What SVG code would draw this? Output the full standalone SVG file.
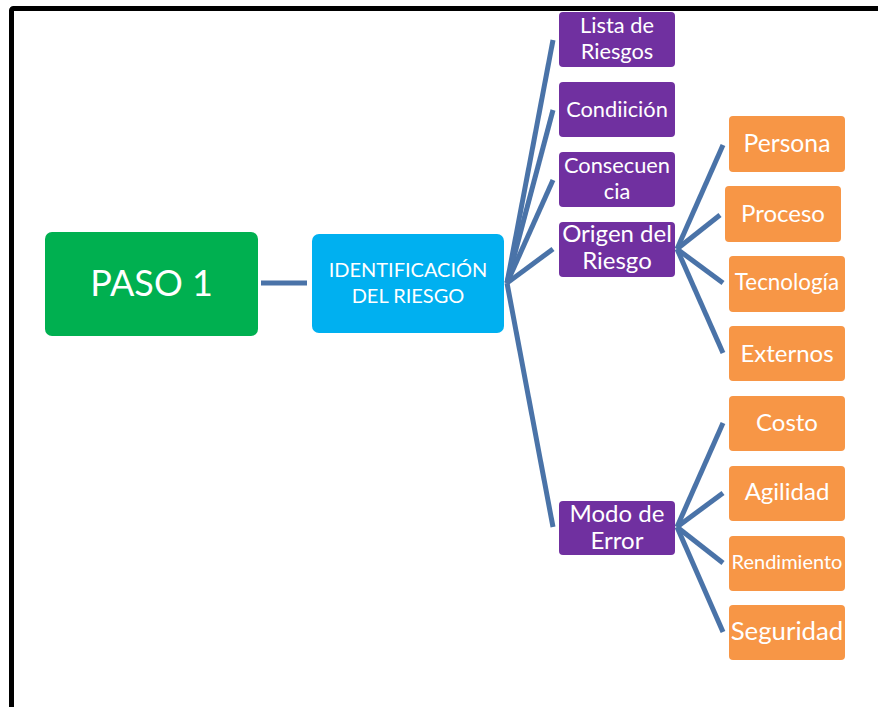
<svg xmlns="http://www.w3.org/2000/svg" width="878" height="707" viewBox="0 0 878 707">
<style>
.p{fill:#7030A0}
.o{fill:#F79646}
text{font-family:Lato,"Liberation Sans",sans-serif;fill:#fff;text-anchor:middle}
.pt{font-size:21.8px}
.pb{font-size:24px}
.ot{font-size:24px}
.c line{stroke:#4A73A8;stroke-width:5;stroke-linecap:butt}
</style>
<rect width="878" height="707" fill="#fff"/>
<rect x="11.5" y="8.5" width="900" height="730" rx="2" fill="none" stroke="#000" stroke-width="5"/>
<g class="c" id="connectors">
<line x1="261" y1="283" x2="307" y2="283" stroke="#44649A"/>
<line x1="507" y1="283" x2="553" y2="40"/>
<line x1="507" y1="283" x2="553" y2="110"/>
<line x1="507" y1="283" x2="553" y2="180"/>
<line x1="507" y1="283" x2="553" y2="249"/>
<line x1="507" y1="283" x2="553" y2="527"/>
<line x1="677" y1="249" x2="723" y2="145"/>
<line x1="677" y1="249" x2="720" y2="215"/>
<line x1="677" y1="249" x2="723" y2="283"/>
<line x1="677" y1="249" x2="723" y2="353"/>
<line x1="677" y1="527" x2="723" y2="423"/>
<line x1="677" y1="527" x2="723" y2="493"/>
<line x1="677" y1="527" x2="723" y2="563"/>
<line x1="677" y1="527" x2="723" y2="632"/>
</g>
<g id="paso1"><rect x="45" y="232" width="213" height="104" rx="7" fill="#00B050"/><text x="151.5" y="296" font-size="36">PASO 1</text></g>
<g id="ident"><rect x="312" y="234" width="192" height="99" rx="7" fill="#00B0F0"/><text x="408" y="277" font-size="20">IDENTIFICACIÓN</text><text x="408" y="303" font-size="20">DEL RIESGO</text></g>
<g id="lista"><rect class="p" x="559" y="12" width="116" height="55" rx="4"/><text class="pt" x="617" y="33">Lista de</text><text class="pt" x="617" y="59">Riesgos</text></g>
<g id="condicion"><rect class="p" x="559" y="82" width="116" height="55" rx="4"/><text class="pt" x="617" y="117">Condiición</text></g>
<g id="consecuencia"><rect class="p" x="559" y="152" width="116" height="55" rx="4"/><text class="pt" x="617" y="173">Consecuen</text><text class="pt" x="617" y="199">cia</text></g>
<g id="origen"><rect class="p" x="559" y="222" width="116" height="55" rx="4"/><text class="pb" x="617" y="242">Origen del</text><text class="pb" x="617" y="269">Riesgo</text></g>
<g id="modo"><rect class="p" x="559" y="501" width="116" height="54" rx="4"/><text class="pb" x="617" y="522">Modo de</text><text class="pb" x="617" y="549">Error</text></g>
<g id="persona"><rect class="o" x="729" y="116" width="116" height="56" rx="4"/><text x="787" y="152" font-size="24.7">Persona</text></g>
<g id="proceso"><rect class="o" x="725" y="186" width="116" height="56" rx="4"/><text class="ot" x="783" y="222">Proceso</text></g>
<g id="tecnologia"><rect class="o" x="729" y="256" width="116" height="56" rx="4"/><text x="787" y="290" font-size="22.4">Tecnología</text></g>
<g id="externos"><rect class="o" x="729" y="326" width="116" height="55" rx="4"/><text class="ot" x="787" y="362">Externos</text></g>
<g id="costo"><rect class="o" x="729" y="396" width="116" height="55" rx="4"/><text class="ot" x="787" y="431">Costo</text></g>
<g id="agilidad"><rect class="o" x="729" y="466" width="116" height="55" rx="4"/><text class="ot" x="787" y="500">Agilidad</text></g>
<g id="rendimiento"><rect class="o" x="729" y="536" width="116" height="55" rx="4"/><text x="787" y="569" font-size="20">Rendimiento</text></g>
<g id="seguridad"><rect class="o" x="729" y="605" width="116" height="55" rx="4"/><text x="787" y="640" font-size="25.8">Seguridad</text></g>
</svg>
